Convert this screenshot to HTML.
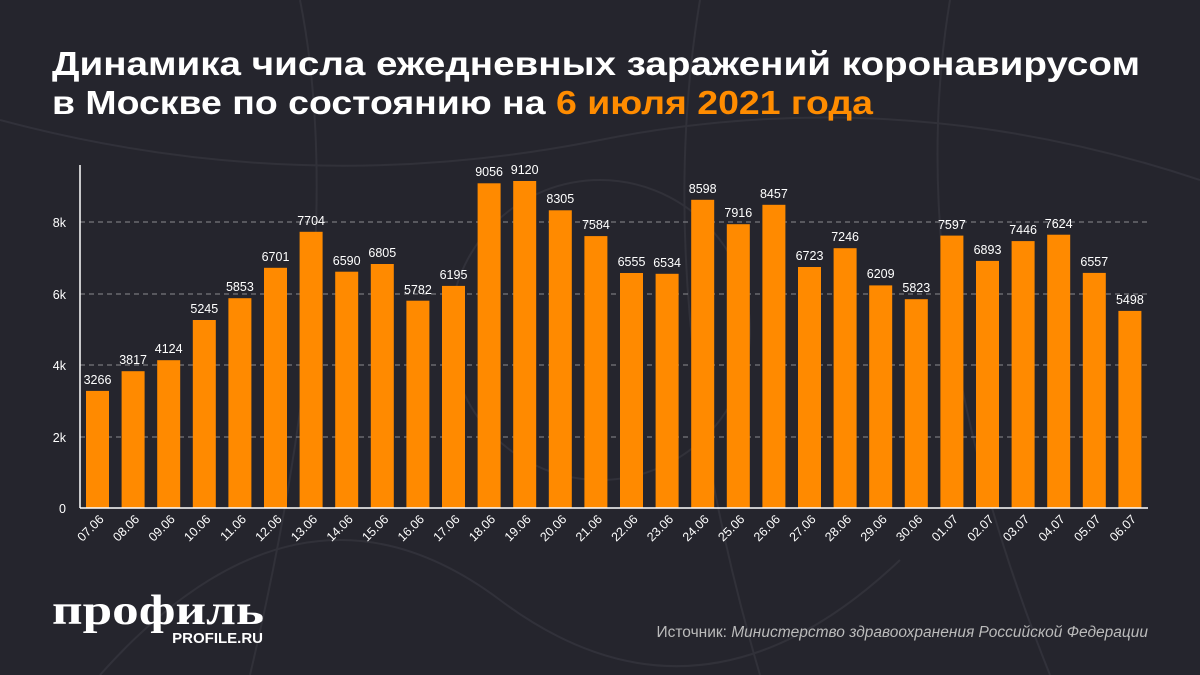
<!DOCTYPE html>
<html><head><meta charset="utf-8"><style>
body{margin:0;background:#25252d;}
svg{display:block}
</style></head><body>
<svg width="1200" height="675" xmlns="http://www.w3.org/2000/svg" font-family="Liberation Sans, sans-serif">
<rect width="1200" height="675" fill="#25252d"/>
<g stroke="#34343d" stroke-width="2" fill="none" opacity="0.8">
<path d="M0 120 Q300 200 600 140 T1200 180"/>
<path d="M100 675 Q300 450 500 600 T900 560"/>
<path d="M700 0 Q650 300 760 675"/>
<path d="M300 0 Q350 250 250 675"/>
<circle cx="600" cy="330" r="150"/>
<path d="M950 0 Q900 300 1050 675"/>
</g>
<text x="52" y="75" fill="#fff" font-size="33" font-weight="bold" textLength="1088" lengthAdjust="spacingAndGlyphs">Динамика числа ежедневных заражений коронавирусом</text>
<text x="52" y="114" fill="#fff" font-size="33" font-weight="bold" textLength="821" lengthAdjust="spacingAndGlyphs">в Москве по состоянию на <tspan fill="#ff8c00">6 июля 2021 года</tspan></text>
<g stroke="#8a8a90" stroke-dasharray="5,4" stroke-width="1">
<line x1="80" y1="437" x2="1148" y2="437"/>
<line x1="80" y1="365" x2="1148" y2="365"/>
<line x1="80" y1="294" x2="1148" y2="294"/>
<line x1="80" y1="222" x2="1148" y2="222"/>
</g>
<g fill="#fff" font-size="12.5" text-anchor="end">
<text x="66" y="513">0</text><text x="66" y="442">2k</text><text x="66" y="370">4k</text><text x="66" y="299">6k</text><text x="66" y="227">8k</text>
</g>
<g fill="#ff8a00">
<rect x="86" y="390.9" width="23" height="117.1"/>
<rect x="121.6" y="371.2" width="23" height="136.8"/>
<rect x="157.2" y="360.2" width="23" height="147.8"/>
<rect x="192.8" y="320.0" width="23" height="188.0"/>
<rect x="228.4" y="298.2" width="23" height="209.8"/>
<rect x="264" y="267.8" width="23" height="240.2"/>
<rect x="299.6" y="231.8" width="23" height="276.2"/>
<rect x="335.2" y="271.7" width="23" height="236.3"/>
<rect x="370.8" y="264.0" width="23" height="244.0"/>
<rect x="406.4" y="300.7" width="23" height="207.3"/>
<rect x="442" y="285.9" width="23" height="222.1"/>
<rect x="477.6" y="183.3" width="23" height="324.7"/>
<rect x="513.2" y="181.0" width="23" height="327.0"/>
<rect x="548.8" y="210.3" width="23" height="297.7"/>
<rect x="584.4" y="236.1" width="23" height="271.9"/>
<rect x="620" y="273.0" width="23" height="235.0"/>
<rect x="655.6" y="273.8" width="23" height="234.2"/>
<rect x="691.2" y="199.8" width="23" height="308.2"/>
<rect x="726.8" y="224.2" width="23" height="283.8"/>
<rect x="762.4" y="204.8" width="23" height="303.2"/>
<rect x="798" y="267.0" width="23" height="241.0"/>
<rect x="833.6" y="248.2" width="23" height="259.8"/>
<rect x="869.2" y="285.4" width="23" height="222.6"/>
<rect x="904.8" y="299.2" width="23" height="208.8"/>
<rect x="940.4" y="235.6" width="23" height="272.4"/>
<rect x="976" y="260.9" width="23" height="247.1"/>
<rect x="1011.6" y="241.1" width="23" height="266.9"/>
<rect x="1047.2" y="234.7" width="23" height="273.3"/>
<rect x="1082.8" y="272.9" width="23" height="235.1"/>
<rect x="1118.4" y="310.9" width="23" height="197.1"/>
</g>
<line x1="80" y1="165" x2="80" y2="508" stroke="#fff" stroke-width="1.5"/>
<line x1="80" y1="508" x2="1148" y2="508" stroke="#fff" stroke-width="1.5"/>
<g fill="#fff" font-size="12.5" text-anchor="middle">
<text x="97.5" y="384">3266</text>
<text x="133.1" y="364">3817</text>
<text x="168.7" y="353">4124</text>
<text x="204.3" y="313">5245</text>
<text x="239.9" y="291">5853</text>
<text x="275.5" y="261">6701</text>
<text x="311.1" y="225">7704</text>
<text x="346.7" y="265">6590</text>
<text x="382.3" y="257">6805</text>
<text x="417.9" y="294">5782</text>
<text x="453.5" y="279">6195</text>
<text x="489.1" y="176">9056</text>
<text x="524.7" y="174">9120</text>
<text x="560.3" y="203">8305</text>
<text x="595.9" y="229">7584</text>
<text x="631.5" y="266">6555</text>
<text x="667.1" y="267">6534</text>
<text x="702.7" y="193">8598</text>
<text x="738.3" y="217">7916</text>
<text x="773.9" y="198">8457</text>
<text x="809.5" y="260">6723</text>
<text x="845.1" y="241">7246</text>
<text x="880.7" y="278">6209</text>
<text x="916.3" y="292">5823</text>
<text x="951.9" y="229">7597</text>
<text x="987.5" y="254">6893</text>
<text x="1023.1" y="234">7446</text>
<text x="1058.7" y="228">7624</text>
<text x="1094.3" y="266">6557</text>
<text x="1129.9" y="304">5498</text>
</g>
<g fill="#fff" font-size="12.5" text-anchor="end">
<text transform="translate(104.5,520) rotate(-45)">07.06</text>
<text transform="translate(140.1,520) rotate(-45)">08.06</text>
<text transform="translate(175.7,520) rotate(-45)">09.06</text>
<text transform="translate(211.3,520) rotate(-45)">10.06</text>
<text transform="translate(246.9,520) rotate(-45)">11.06</text>
<text transform="translate(282.5,520) rotate(-45)">12.06</text>
<text transform="translate(318.1,520) rotate(-45)">13.06</text>
<text transform="translate(353.7,520) rotate(-45)">14.06</text>
<text transform="translate(389.3,520) rotate(-45)">15.06</text>
<text transform="translate(424.9,520) rotate(-45)">16.06</text>
<text transform="translate(460.5,520) rotate(-45)">17.06</text>
<text transform="translate(496.1,520) rotate(-45)">18.06</text>
<text transform="translate(531.7,520) rotate(-45)">19.06</text>
<text transform="translate(567.3,520) rotate(-45)">20.06</text>
<text transform="translate(602.9,520) rotate(-45)">21.06</text>
<text transform="translate(638.5,520) rotate(-45)">22.06</text>
<text transform="translate(674.1,520) rotate(-45)">23.06</text>
<text transform="translate(709.7,520) rotate(-45)">24.06</text>
<text transform="translate(745.3,520) rotate(-45)">25.06</text>
<text transform="translate(780.9,520) rotate(-45)">26.06</text>
<text transform="translate(816.5,520) rotate(-45)">27.06</text>
<text transform="translate(852.1,520) rotate(-45)">28.06</text>
<text transform="translate(887.7,520) rotate(-45)">29.06</text>
<text transform="translate(923.3,520) rotate(-45)">30.06</text>
<text transform="translate(958.9,520) rotate(-45)">01.07</text>
<text transform="translate(994.5,520) rotate(-45)">02.07</text>
<text transform="translate(1030.1,520) rotate(-45)">03.07</text>
<text transform="translate(1065.7,520) rotate(-45)">04.07</text>
<text transform="translate(1101.3,520) rotate(-45)">05.07</text>
<text transform="translate(1136.9,520) rotate(-45)">06.07</text>
</g>
<text x="52" y="624" fill="#fff" font-size="42" font-weight="bold" font-family="Liberation Serif, serif" textLength="212" lengthAdjust="spacingAndGlyphs">профиль</text>
<text x="263" y="643" fill="#fff" font-size="15" font-weight="bold" text-anchor="end">PROFILE.RU</text>
<text x="1148" y="637" fill="#bbb" font-size="15.5" text-anchor="end">Источник: <tspan font-style="italic">Министерство здравоохранения Российской Федерации</tspan></text>
</svg>
</body></html>
